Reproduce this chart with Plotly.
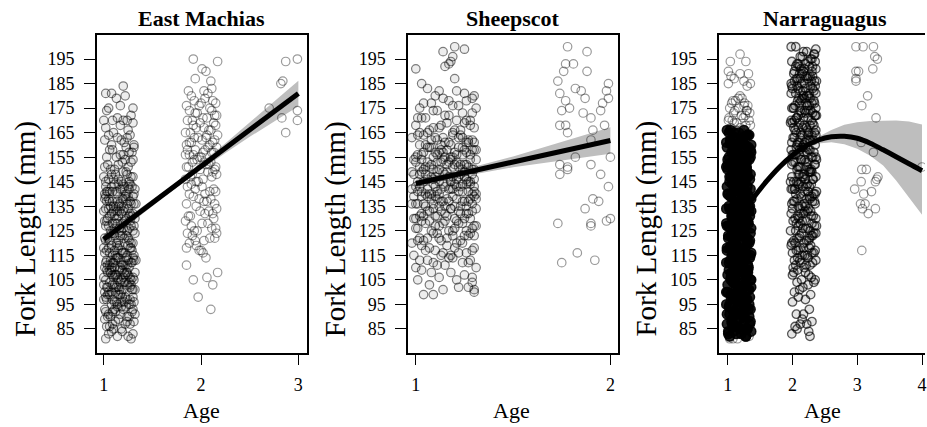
import plotly.graph_objects as go

W, H = 927, 427
FONT = "Liberation Serif"

# ---------------- data (fork length in mm, jitter offset in 1/100 age units) -------------
em1_len = [
81,82,82,83,84,84,81,83,85,86, 87,88,89,86,87,88,89,85,88,87, 90,91,92,93,94,90,91,92,93,94,
90,92,93,91,94,92,90,93,95,96, 97,98,99,95,96,97,98,99,95,96, 97,98,99,96,97,98,95,99,97,96,
100,101,102,103,104,100,101,102,103,104, 100,101,102,103,104,100,101,102,103,104,
100,101,102,103,104,102,105,106,107,108, 109,105,106,107,108,109,105,106,107,108,
109,105,106,107,108,109,105,106,107,108, 109,106,107,108,110,111,112,113,114,110,
111,112,113,114,110,111,112,113,114,110, 111,112,113,114,110,111,112,113,114,111,
112,113,115,116,117,118,119,115,116,117, 118,119,115,116,117,118,119,115,116,117,
118,119,116,118,120,121,122,123,124,120, 121,122,123,124,120,121,122,123,124,121,
122,123,125,126,127,128,129,125,126,127, 128,129,125,126,127,128,129,125,126,127,
128,129,130,131,132,133,134,130,131,132, 133,134,130,131,132,133,134,130,131,132,
133,134,131,133,135,136,137,138,139,135, 136,137,138,139,135,136,137,138,139,135,
136,137,138,139,135,136,137,138,140,141, 142,143,144,140,141,142,143,144,140,141,
142,143,144,140,141,142,143,144,141,143, 145,146,147,148,149,145,146,147,148,149,
145,146,147,148,150,151,152,153,154,150, 152,153,151,154,155,156,157,158,159,155,
157,158,156,159,160,161,162,163,164,160, 162,164,163,165,166,167,168,169,170,170,
170,170,171,172,174,175,175,176,179,181, 181,180,184]
em1_jit = [
2,25,14,30,8,19,28,5,10,3, 22,31,15,6,27,12,1,18,24,9, 4,17,29,11,23,7,32,2,20,14,
26,9,30,5,18,12,24,1,8,21, 3,30,15,26,11,0,19,6,28,13, 24,2,17,31,9,22,14,4,27,18,
5,16,27,9,21,1,32,13,24,6, 18,29,3,11,22,8,30,15,0,26, 12,20,4,28,17,10,2,14,25,7,
19,31,10,22,4,16,28,0,12,23, 6,18,30,9,21,3,15,27,11,24, 8,20,13,32,17,6,29,12,23,1,
20,9,31,14,26,4,18,7,30,11, 22,2,25,15,8,19,28,3,13,24, 10,33,9,22,3,27,14,31,6,18,
0,25,12,20,29,5,16,24,1,11, 28,8,19,15,13,26,4,19,8,30, 15,1,23,10,28,6,21,17,32,2,
25,11,7,20,31,12,3,24,16,28, 9,1,18,26,5,14,22,30,11,2, 19,27,4,15,27,10,21,32,6,18,
0,25,13,29,8,20,2,23,11,30, 16,5,26,14,12,24,3,19,30,7, 16,27,1,22,10,33,14,5,25,18,
28,9,20,2,15,31,6,23,1,13, 26,8,20,31,4,17,29,11,23,6, 19,2,27,14,9,32,21,15,3,25,
18,5,28,12,23,2,15,30,8,20, 26,10,0,24,11,25,4,19,30,7, 15,28,1,22,3,17,29,9,23,13,
26,6,20,31,8,21,1,14,27,31, 18,5,24,10,25,2,17,30,0,9, 20,24,14,28,3,5,30,17,13,2,
8,22,20]

em2_len = [
93,98,103,105,106,108,111,114,116,117, 117,118,119,120,121,122,122,123,124,121,
124,125,126,127,128,129,126,128,125,130, 131,132,133,134,131,133,132,135,136,137,
138,139,136,138,137,140,141,142,143,144, 141,143,140,142,145,146,147,148,149,146,
148,145,147,149,150,151,152,153,154,150, 151,152,153,154,151,153,155,156,157,158,
159,155,156,157,158,159,156,157,158,160, 161,162,163,164,160,161,162,163,164,161,
163,165,166,167,168,169,165,166,167,168, 169,170,171,172,173,174,170,171,172,173,
174,175,176,177,178,179,176,178,177,180, 181,182,183,182,187,186,191,190,195,194]
em2_jit = [
10,-3,12,-8,6,17,-15,5,2,0, -2,-15,-5,-12,-6,9,14,-9,16,3, -14,-4,11,-10,7,-16,15,1,-7,13,
-11,4,-1,16,-13,8,12,-5,-15,3, 10,-8,14,-2,6,-12,15,-6,1,-10, 9,-14,4,13,-3,-16,11,-9,7,2,
16,-5,-11,12,-1,-15,8,3,-7,14, -13,5,10,-4,15,-9,0,-16,13,-6, 7,-2,-12,11,4,16,-8,2,-14,9,
-10,14,-3,6,-15,12,1,-7,17,-12, 5,-16,10,-5,15,-1,-11,8,3,-8, 13,-14,6,16,-4,11,-9,2,14,-6,
-12,9,-2,15,-7,4,-15,12,0,-10, 7,-13,11,3,-6,10,1,5,-8,17]

em3_len = [175,186,185,194,195,171,165,170,174]
em3_jit = [-30,-16,-18,-13,-1,-17,-13,-1,-1]

sh1_len = [
99,99,100,101,102,102,104,101,103,105, 106,107,108,109,106,108,105,110,111,112,
113,114,110,111,112,113,114,112,113,115, 116,117,118,119,115,116,117,118,119,116,
117,118,115,120,121,122,123,124,120,121, 122,123,124,120,121,122,123,124,121,122,
123,125,126,127,128,129,125,126,127,128, 129,125,126,127,128,129,125,126,127,128,
129,130,131,132,133,134,130,131,132,133, 134,130,131,132,133,134,130,131,132,133,
134,130,131,132,133,135,136,137,138,139, 135,136,137,138,139,135,136,137,138,139,
135,136,137,138,139,135,136,137,138,139, 135,136,137,138,139,140,141,142,143,144,
140,141,142,143,144,140,141,142,143,144, 140,141,142,143,144,140,141,142,143,144,
140,141,142,143,144,141,143,145,146,147, 148,149,145,146,147,148,149,145,146,147,
148,149,145,146,147,148,149,145,146,147, 148,149,145,146,147,148,149,150,151,152,
153,154,150,151,152,153,154,150,151,152, 153,154,150,151,152,153,154,150,151,152,
153,154,150,151,152,153,154,155,156,157, 158,159,155,156,157,158,159,155,156,157,
158,159,155,156,157,158,159,155,156,157, 158,159,156,157,158,160,161,162,163,164,
160,161,162,163,164,160,161,162,163,164, 160,161,162,163,164,161,163,165,166,167,
168,169,165,166,167,168,169,165,166,167, 168,170,171,172,173,174,170,171,172,173,
174,170,171,175,176,177,178,179,175,176, 177,178,179,180,181,182,183,180,182,185,
187,191,192,194,193,198,200,199,196]
sh1_jit = [
4,9,30,14,22,27,29,30,7,1, 12,25,18,3,29,8,21,0,15,27, 6,19,31,11,24,2,17,9,28,13,
22,5,30,16,-1,26,10,20,3,14, 29,7,18,24,1,12,27,9,21,4, 16,30,11,-2,23,6,19,28,13,2,
25,8,20,31,5,15,26,0,12,22, 3,17,29,10,24,7,19,1,30,14, 21,-1,11,27,6,18,25,2,15,29,
9,20,4,23,13,31,0,16,26,7, 18,28,10,3,22,12,-2,24,8,30, 15,1,27,11,19,5,29,14,21,3,
26,9,17,31,6,23,0,13,28,10, 20,4,25,16,-1,8,30,18,2,24, 12,27,6,21,14,29,1,17,23,9,
31,3,19,10,26,5,22,-2,15,28, 7,24,13,0,20,11,30,4,18,25, 2,16,28,9,22,-1,14,27,6,19,
23,11,1,30,17,5,25,12,21,8, 29,3,18,26,10,15,-2,24,7,20, 13,31,4,22,16,0,28,9,19,26,
6,14,29,2,23,11,18,30,5,25, 17,-1,12,27,8,21,3,15,24,10, 30,6,19,1,26,13,22,9,28,4,
16,24,0,11,20,29,7,18,3,14, 25,8,21,12,31,2,17,27,10,23, 5,15,29,-2,19,13,26,8,22,1,
18,30,11,24,4,27,14,2,20,9, 28,16,6,23,12,0,25,19,7,30, 13,21,3,17,29,9,26,1,15,24,
11,28,5,2,19,8,26,14,31,22, 4,17,29,10,25,21,6,30,12,3, 20,0,15,18,17,14,20,25,19]

sh2_len = [200,198,193,193,190,190,186,183,182,179, 181,185,182,179,178,177,175,174,173,171,
           174,168,168,165,168,166,162,155,155,152, 151,152,148,143,138,137,134,127,129,130,
           128,128,116,112,113,148,150]
sh2_jit = [-22,-12,-23,-19,-24,-12,-27,-18,-15,-13, -26,-1,-2,-1,-23,-4,-21,-25,-14,-10,
           -5,-26,-23,-22,-3,-9,-10,-18,0,-26, -22,-10,-5,-1,-9,-6,-13,-10,-2,0,
           -10,-27,-17,-25,-8,-26,-22]

na1_core_len = [
82,83,84,85,86,87,88,89,90,91, 92,93,94,95,96,97,98,99,100,101, 102,103,104,105,106,107,108,109,110,111,
112,113,114,115,116,117,118,119,120,121, 122,123,124,125,126,127,128,129,130,131,
132,133,134,135,136,137,138,139,140,141, 142,143,144,145,146,147,148,149,150,151,
152,153,154,155,156,157,158,159,160,161, 162,163,164,165,166,82,83,84,85,86,
87,88,89,90,91,92,93,94,95,96, 97,98,99,100,101,102,103,104,105,106, 107,108,109,110,111,112,113,114,115,116,
117,118,119,120,121,122,123,124,125,126, 127,128,129,130,131,132,133,134,135,136,
137,138,139,140,141,142,143,144,145,146, 147,148,149,150,151,152,153,154,155,156,
157,158,159,160,161,162,163,164,165,166, 82,83,84,85,86,87,88,89,90,91,
92,93,94,95,96,97,98,99,100,101, 102,103,104,105,106,107,108,109,110,111,
112,113,114,115,116,117,118,119,120,121, 122,123,124,125,126,127,128,129,130,131,
132,133,134,135,136,137,138,139,140,141, 142,143,144,145,146,147,148,149,150,151,
152,153,154,155,156,157,158,159,160,161, 162,163,164,165,166,95,100,105,110,115,
120,125,130,135,140,145,150,155,160,98, 108,118,128,138,148,158,112,132,152,142]
na1_core_jit = [
3,21,9,30,14,-1,26,7,33,18, 11,35,2,24,16,29,5,20,-2,31, 13,27,8,36,19,0,25,10,32,15,
22,4,34,12,28,-1,17,6,30,23, 1,19,35,9,26,14,-2,31,11,24, 7,33,16,2,28,20,36,5,13,29,
18,-1,25,10,34,3,21,30,8,15, 27,12,0,35,19,6,24,32,14,-2, 23,9,31,17,4,28,1,36,20,11,
34,6,15,26,-1,22,13,29,3,18, 30,8,21,0,33,16,25,10,35,5, 12,27,2,19,31,-2,24,14,7,36,
20,4,29,11,34,17,1,26,9,23, -1,32,15,28,6,21,36,3,18,12, 25,10,33,0,22,14,30,7,27,19,
5,35,16,24,-2,11,29,20,2,31, 14,26,8,36,18,4,23,33,10,-1, 28,13,1,30,21,7,35,17,25,3,
9,32,19,-2,27,12,34,5,22,15, 36,0,24,11,29,16,6,31,13,20, 2,26,18,35,8,23,-1,14,33,10,
30,5,21,12,36,1,27,17,7,34, 15,24,-2,32,11,19,28,4,22,9, 35,13,26,3,20,31,8,16,0,29,
18,6,33,23,10,36,14,-1,27,4, 21,12,30,2,25,33,16,5,20,28, 9,24,14,34,1,19,29,11,6,22,
31,3,17,26,13,35,8,23,0,15]

na1_edge_len = [167,168,169,170,171,172,173,174,175,176, 177,178,179,180,168,170,172,174,176,178,
                167,171,175,179,169,173,177,166,170,174, 194,197,194,190,189,189,185,185,187,188,
                186,184,81,81,82,82,81]
na1_edge_jit = [5,28,14,33,2,21,9,30,17,25, 6,12,22,19,35,1,27,11,31,8,
                19,24,3,16,10,34,26,13,7,29, 4,19,28,1,19,32,1,35,10,5,
                25,30,3,15,26,33,8]

na2_len = [
83,85,82,84,87,87,86,89,88,91, 91,93,96,97,99,98,100,101,103,104, 102,104,105,106,107,108,109,105,107,108,
110,111,112,113,114,110,111,112,113,114, 111,113,115,116,117,118,119,115,116,117,
118,119,115,116,117,118,120,121,122,123, 124,120,121,122,123,124,120,121,122,123,
124,125,126,127,128,129,125,126,127,128, 129,125,126,127,128,129,130,131,132,133,
134,130,131,132,133,134,130,131,132,133, 134,135,136,137,138,139,135,136,137,138,
139,135,136,137,138,139,137,140,141,142, 143,144,140,141,142,143,144,140,141,142,
143,144,140,142,144,145,146,147,148,149, 145,146,147,148,149,145,146,147,148,149,
145,147,149,150,151,152,153,154,150,151, 152,153,154,150,151,152,153,154,151,153,
154,155,156,157,158,159,155,156,157,158, 159,155,156,157,158,159,156,158,159,160,
161,162,163,164,160,161,162,163,164,160, 161,162,163,164,161,162,164,165,166,167,
168,169,165,166,167,168,169,165,166,167, 168,169,165,167,169,170,171,172,173,174,
170,171,172,173,174,170,171,172,173,174, 171,172,174,175,176,177,178,179,175,176,
177,178,179,175,176,177,178,179,175,177, 179,180,181,182,183,184,180,181,182,183,
184,180,181,182,183,184,181,183,184,185, 186,187,188,189,185,186,187,188,189,185,
186,187,188,189,186,187,188,190,191,192, 193,194,190,191,192,193,194,190,191,192,
193,194,192,195,196,197,198,199,200,200, 195,197,198,196]
na2_jit = [
-1,7,27,25,12,22,4,15,30,6, 17,26,0,20,28,9,3,11,24,33, 16,7,14,29,0,20,8,35,25,2,
18,5,31,11,24,1,27,13,36,8, 21,3,15,30,9,26,-2,19,33,6, 12,28,23,0,35,17,4,25,10,31,
14,-1,22,7,29,36,18,2,26,11, 33,5,20,9,30,15,-3,24,37,12, 1,27,16,34,6,21,10,29,-2,19,
25,4,32,13,23,0,36,8,17,28, 11,20,-1,31,7,26,15,35,3,22, 30,9,18,1,27,14,34,5,24,-2,
16,29,12,37,3,21,8,33,19,0, 26,10,35,4,23,13,31,-1,18,28, 6,20,36,11,25,2,32,15,9,27,
-3,17,30,7,22,34,1,14,26,10, 35,4,19,29,12,-1,24,37,8,21, 13,31,2,18,27,6,36,10,23,-2,
16,29,5,33,11,20,0,25,14,35, 8,22,3,30,17,-1,26,12,36,7, 19,32,1,24,10,28,15,34,4,21,
27,-3,13,36,9,18,31,6,23,2, 33,11,25,16,0,29,7,35,20,12, 3,24,37,14,28,-2,17,9,31,22,
6,35,19,1,26,11,33,15,-1,23, 30,8,18,36,4,21,13,27,2,34, 10,25,-2,16,31,7,22,36,12,0,
28,17,5,33,20,-1,26,9,35,14, 3,23,31,11,19,37,6,27,15,-2, 34,12,21,2,29,8,24,17,36,5,
20,-1,30,13,26,9,35,3,18,31, 7,24,11,28,15,33,22,36,-2,5, 30,34,17,12]

na3_len = [200,200,200,196,195,191,190,190,187,186, 180,176,171,161,157,150,150,147,146,145,
           145,142,141,140,136,136,134,132,134,117]
na3_jit = [-2,9,25,27,31,24,2,-2,-2,-2, 16,7,29,6,25,7,14,32,30,28,
           6,-4,22,10,5,12,8,17,28,7]
na4_len = [151]
na4_jit = [0]

# fitted curves with confidence band
em_fit_x = [1.0, 1.25, 1.5, 1.75, 2.0, 2.25, 2.5, 2.75, 3.0]
em_fit = [121.6, 129.0, 136.5, 143.9, 151.3, 158.7, 166.2, 173.6, 181.0]
em_lo = [119.6, 127.4, 135.2, 142.7, 149.9, 156.7, 163.3, 169.6, 175.8]
em_hi = [123.6, 130.6, 137.8, 145.1, 152.7, 160.7, 169.1, 177.6, 186.2]

sh_fit_x = [1.0, 1.25, 1.5, 1.75, 2.0]
sh_fit = [144.3, 148.7, 153.1, 157.4, 161.8]
sh_lo = [142.9, 147.3, 150.9, 153.6, 156.4]
sh_hi = [145.7, 150.1, 155.3, 161.2, 167.2]

na_fit_x = [1.0, 1.2, 1.4, 1.6, 1.8, 2.0, 2.2, 2.4, 2.6, 2.8, 3.0, 3.2, 3.4, 3.6, 3.8, 4.0]
na_fit = [123.0, 131.5, 138.6, 145.2, 151.0, 155.8, 159.5, 162.0, 163.3, 163.5, 162.7, 160.7, 158.0, 155.2, 152.3, 149.5]
na_lo = [121.0, 130.0, 137.4, 144.1, 150.0, 154.8, 158.4, 160.6, 161.1, 160.3, 158.4, 155.6, 151.6, 145.5, 138.5, 131.5]
na_hi = [125.0, 133.0, 139.8, 146.3, 152.0, 156.8, 160.6, 163.4, 166.1, 168.2, 169.2, 169.7, 169.9, 169.9, 169.5, 168.3]

titles = ["East Machias", "Sheepscot", "Narraguagus"]
y_ticks = [85, 95, 105, 115, 125, 135, 145, 155, 165, 175, 185, 195]

# ---------------- figure ----------------
fig = go.Figure()

def px_x(p):
    return p / W

def px_y(p):
    return 1 - p / H

def band(fx, lo, hi, ax):
    fig.add_trace(go.Scatter(x=fx + fx[::-1], y=hi + lo[::-1], fill="toself",
                             fillcolor="rgb(190,190,190)", line=dict(width=0),
                             mode="lines", hoverinfo="skip", xaxis=ax[0], yaxis=ax[1]))

def pts(age, lens, jit, ax, alpha=0.4, lw=1.2, filled=0.0, size=8.5):
    assert len(lens) == len(jit)
    if filled > 0:
        marker = dict(symbol="circle", size=size, color=f"rgba(0,0,0,{filled})",
                      line=dict(width=lw, color=f"rgba(0,0,0,{alpha})"))
    else:
        marker = dict(symbol="circle-open", size=size,
                      color=f"rgba(0,0,0,{alpha})", line=dict(width=lw))
    fig.add_trace(go.Scatter(x=[age + j / 100 for j in jit], y=lens, mode="markers",
                             marker=marker, xaxis=ax[0], yaxis=ax[1]))

def fitline(fx, fy, ax, shape="linear"):
    fig.add_trace(go.Scatter(x=fx, y=fy, mode="lines", line=dict(color="black", width=5, shape=shape),
                             xaxis=ax[0], yaxis=ax[1]))

a1, a2, a3 = ("x", "y"), ("x2", "y2"), ("x3", "y3")

band(em_fit_x, em_lo, em_hi, a1)
pts(1, em1_len, em1_jit, a1, alpha=0.5, filled=0.07)
pts(2, em2_len, em2_jit, a1)
pts(3, em3_len, em3_jit, a1)
fitline(em_fit_x, em_fit, a1)

band(sh_fit_x, sh_lo, sh_hi, a2)
pts(1, sh1_len, sh1_jit, a2, alpha=0.5, filled=0.07)
pts(2, sh2_len, sh2_jit, a2)
fitline(sh_fit_x, sh_fit, a2)

band(na_fit_x, na_lo, na_hi, a3)
pts(1, na1_edge_len, na1_edge_jit, a3)
pts(1, na1_core_len, na1_core_jit, a3, alpha=0.9, lw=1.5, filled=0.85, size=9.5)
pts(2, na2_len, na2_jit, a3, alpha=0.65, lw=1.3, filled=0.1)
pts(3, na3_len, na3_jit, a3)
pts(4, na4_len, na4_jit, a3)
fitline(na_fit_x, na_fit, a3, shape="spline")

boxes = [(97, 307.5, [0.928, 3.087], [1, 2, 3]),
         (409, 619, [0.9605, 2.0374], [1, 2]),
         (721, 927, [0.872, 4.046], [1, 2, 3, 4])]
ydom = [px_y(352.5), px_y(34.5)]
tickfont = dict(family=FONT, size=18, color="black")
layout = {}
for i, (l, r, xr, xt) in enumerate(boxes):
    sfx = "" if i == 0 else str(i + 1)
    layout["xaxis" + sfx] = dict(domain=[px_x(l), min(1.0, px_x(r))], range=xr, tickvals=xt,
                                 ticks="outside", ticklen=11, tickwidth=1.3, tickcolor="black",
                                 showline=True, linecolor="black", linewidth=1.5, mirror=True,
                                 showgrid=False, zeroline=False, tickfont=tickfont,
                                 ticklabelstandoff=4, ticklabeloverflow="allow",
                                 anchor="y" + sfx, fixedrange=True)
    layout["yaxis" + sfx] = dict(domain=ydom, range=[75.4, 205], tickvals=y_ticks,
                                 ticks="outside", ticklen=11, tickwidth=1.3, tickcolor="black",
                                 showline=True, linecolor="black", linewidth=1.5,
                                 mirror=(i < 2), showgrid=False, zeroline=False,
                                 tickfont=tickfont, ticklabelstandoff=6,
                                 anchor="x" + sfx, fixedrange=True)

ann = []
title_x = [202, 514, 826.5]
age_x = [201.5, 513, 824]
ylab_x = [25, 336, 647]
for i in range(3):
    ann.append(dict(text=f"<b>{titles[i]}</b>", x=px_x(title_x[i]), y=px_y(18), xref="paper", yref="paper",
                    showarrow=False, xanchor="center", yanchor="middle",
                    font=dict(family=FONT, size=22, color="black")))
    ann.append(dict(text="Age", x=px_x(age_x[i]), y=px_y(410), xref="paper", yref="paper",
                    showarrow=False, xanchor="center", yanchor="middle",
                    font=dict(family=FONT, size=22, color="black")))
    ann.append(dict(text="Fork Length (mm)", x=px_x(ylab_x[i]), y=px_y(229), xref="paper", yref="paper",
                    showarrow=False, xanchor="center", yanchor="middle", textangle=-90,
                    font=dict(family=FONT, size=29, color="black")))

fig.update_layout(width=W, height=H, margin=dict(l=0, r=0, t=0, b=0),
                  paper_bgcolor="white", plot_bgcolor="white", showlegend=False,
                  annotations=ann, **layout)

fig.write_html("out.html")
